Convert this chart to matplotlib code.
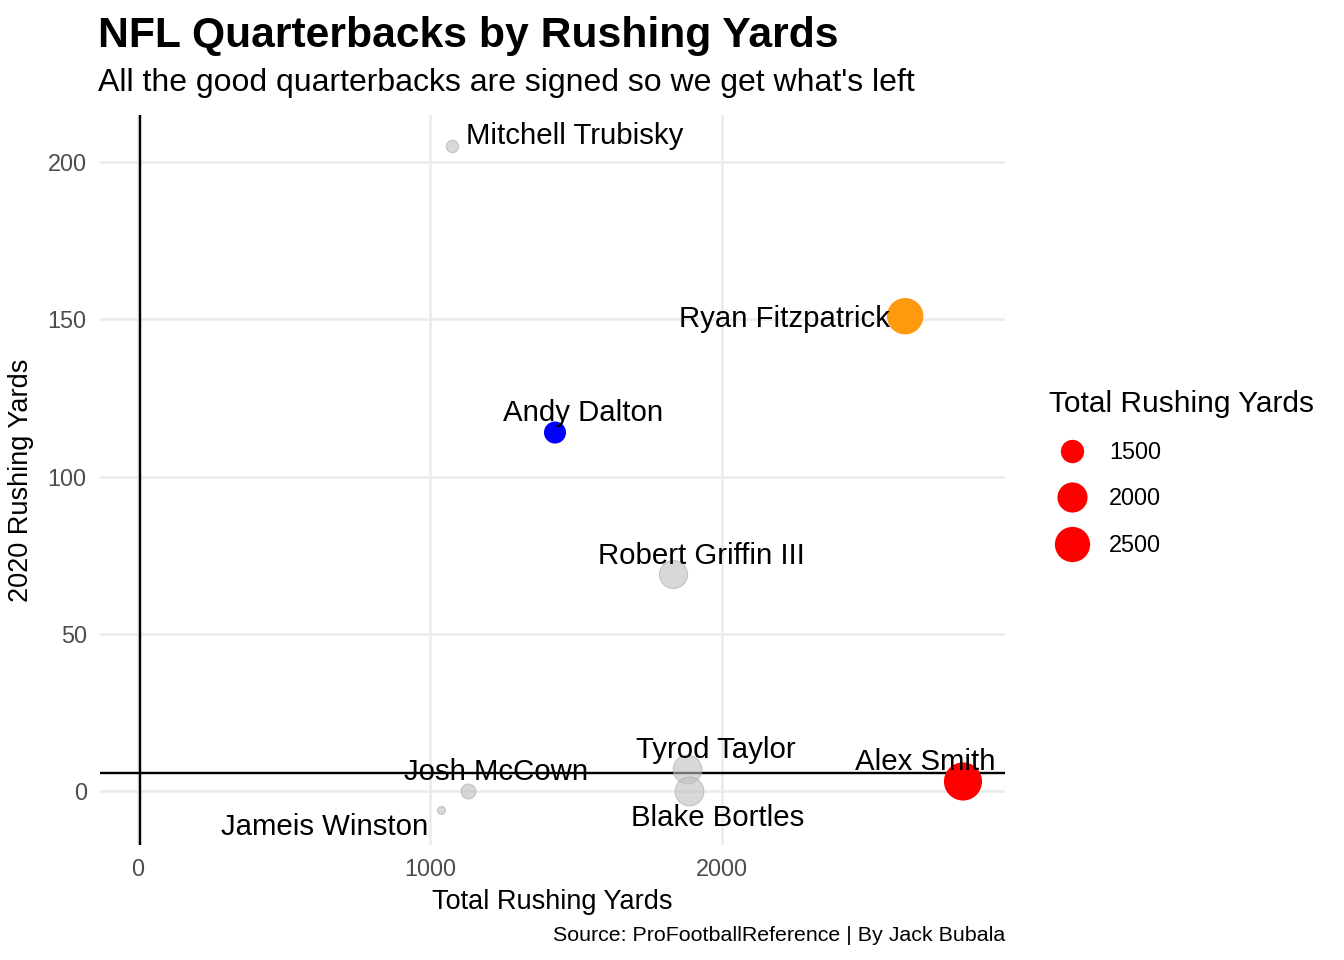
import numpy as np
import matplotlib.pyplot as plt
from matplotlib.lines import Line2D

plt.rcParams['font.family'] = ['Liberation Sans', 'DejaVu Sans']

players = ['Mitchell Trubisky', 'Ryan Fitzpatrick', 'Andy Dalton', 'Robert Griffin III',
           'Tyrod Taylor', 'Blake Bortles', 'Alex Smith', 'Josh McCown', 'Jameis Winston']
total_yards = [1075, 2627, 1428, 1832, 1880, 1887, 2825, 1130, 1038]
yards_2020 = [205, 151, 114, 69, 7, 0, 3, 0, -6]
colors = ['#bfbfbf', '#ff9a0e', '#0000ff', '#bfbfbf', '#bfbfbf', '#bfbfbf', '#ff0000', '#bfbfbf', '#bfbfbf']
alphas = [0.6, 1, 1, 0.6, 0.6, 0.6, 1, 0.6, 0.6]

# label offsets in points (dx, dy) and alignment
label_pos = {
    'Mitchell Trubisky': (5.2, 3.8, 'left'),
    'Ryan Fitzpatrick': (-5.5, -1.0, 'right'),
    'Andy Dalton': (10.5, 7.5, 'center'),
    'Robert Griffin III': (10.5, 6.8, 'center'),
    'Tyrod Taylor': (10.8, 7.2, 'center'),
    'Blake Bortles': (10.8, -10.1, 'center'),
    'Alex Smith': (-14.2, 7.2, 'center'),
    'Josh McCown': (10.5, 7.2, 'center'),
    'Jameis Winston': (-4.9, -6.3, 'right'),
}

hline_y = 5.7
vline_x = 7
legend_vals = [1500, 2000, 2500]

lo, hi = min(total_yards), max(total_yards)


def diam(v):
    t = (v - lo) / (hi - lo)
    return 3.0 + 11.3 * np.sqrt(max(t, 0))


fig = plt.figure(figsize=(7, 5), dpi=192)
ax = fig.add_axes([0.0744, 0.1198, 0.6734, 0.7604])

ax.axhline(hline_y, color='black', lw=0.9, zorder=2)
ax.axvline(vline_x, color='black', lw=0.9, zorder=2)

for p, x, y, c, a in zip(players, total_yards, yards_2020, colors, alphas):
    d = diam(x)
    edge = '#a8a8a8' if c == '#bfbfbf' else 'none'
    ax.scatter(x, y, s=d ** 2, color=c, alpha=a, edgecolors=edge, linewidths=0.4, zorder=3)
    dx, dy, ha = label_pos[p]
    ax.annotate(p, (x, y), xytext=(dx, dy), textcoords='offset points',
                ha=ha, va='center', fontsize=11, color='black', zorder=4)

ax.set_xlim(-130, 2969)
ax.set_ylim(-17.2, 215)
ax.set_xticks([0, 1000, 2000])
ax.set_yticks([0, 50, 100, 150, 200])
ax.grid(True, color='#ebebeb', lw=1.0)
ax.set_axisbelow(True)
for s in ax.spines.values():
    s.set_visible(False)
ax.tick_params(length=0, labelsize=8.8, labelcolor='#4d4d4d', pad=5)
ax.set_xlabel('Total Rushing Yards', fontsize=10.2, labelpad=3)
ax.set_ylabel('2020 Rushing Yards', fontsize=10.2, labelpad=5)

fig.text(0.073, 0.963, 'NFL Quarterbacks by Rushing Yards', fontsize=16,
         fontweight='bold', va='center')
fig.text(0.073, 0.914, "All the good quarterbacks are signed so we get what's left",
         fontsize=12, va='center')
fig.text(0.7478, 0.026, 'Source: ProFootballReference | By Jack Bubala',
         fontsize=8, ha='right', va='center')

handles = [Line2D([], [], marker='o', ls='none', color='#ff0000', markeredgewidth=0,
                  markersize=diam(v)) for v in legend_vals]
fig.legend(handles, [str(v) for v in legend_vals], title='Total Rushing Yards',
           loc='upper left', bbox_to_anchor=(0.7735, 0.604), frameon=False,
           fontsize=8.8, title_fontsize=11.2, alignment='left', labelspacing=1.0,
           handletextpad=0.55, borderaxespad=0)

fig.savefig('out.png', dpi=192)
